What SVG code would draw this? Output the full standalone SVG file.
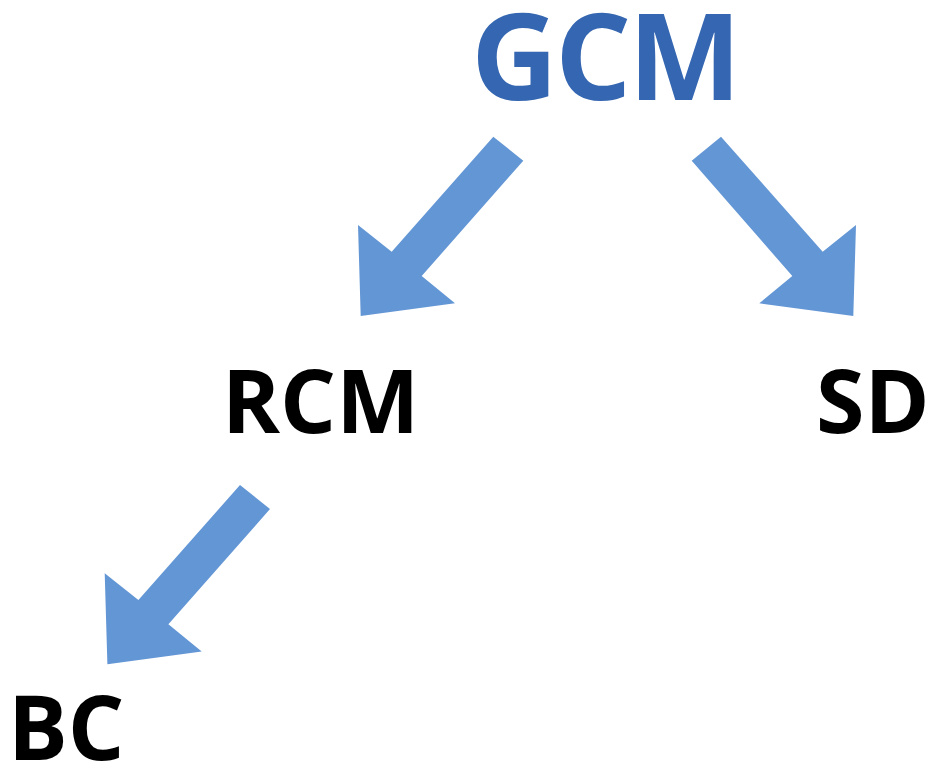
<svg xmlns="http://www.w3.org/2000/svg" width="928" height="763" viewBox="0 0 928 763">
<style>
.t{font-family:"Open Sans","Noto Sans",sans-serif;font-weight:bold}
.k{fill:#000}
.a{fill:#6396D5}
</style>
<rect width="928" height="763" fill="#fff"/>
<g id="connectors">
<polygon class="a" points="493.3,136.7 523.3,160.7 421.7,276 455,303.3 360.7,316 358,225 391.7,251.7"/>
<polygon class="a" points="721,136.7 691.7,160.7 792.3,276 759.3,303.3 853.3,316 856,225 822.7,251.7"/>
<polygon class="a" points="240,485 270,509 168.4,624.3 201.7,651.6 107.4,664.3 104.7,573.3 138.4,600"/>
</g>
<g id="gcm"><text class="t" x="471" y="100" font-size="120" letter-spacing="-3" fill="#3566B1">GCM</text></g>
<g id="rcm"><text class="t k" x="222" y="433" font-size="88">RCM</text></g>
<g id="sd"><text class="t k" x="816" y="433" font-size="88">SD</text></g>
<g id="bc"><text class="t k" x="8" y="760" font-size="89">BC</text></g>
</svg>
